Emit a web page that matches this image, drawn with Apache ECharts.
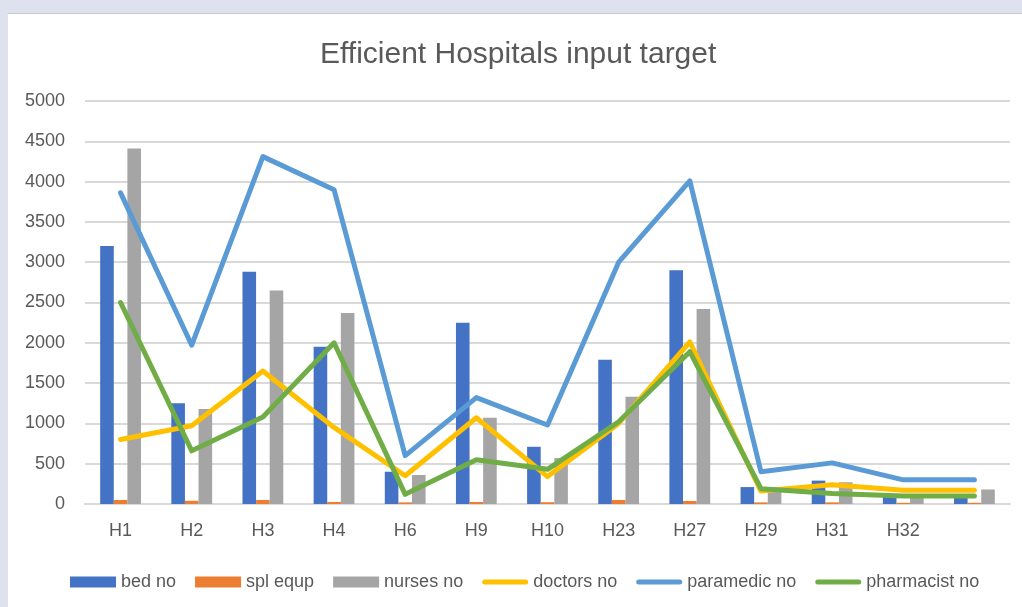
<!DOCTYPE html>
<html>
<head>
<meta charset="utf-8">
<script src="https://cdn.jsdelivr.net/npm/echarts@6/dist/echarts.min.js"></script>
<style>
html,body{margin:0;padding:0;background:#dee2ee;width:1022px;height:607px;overflow:hidden;}
#panel{position:absolute;left:7px;top:13px;width:1015px;height:594px;background:#fff;border-top:1px solid #c9c9c9;border-left:1px solid #e3e3e3;box-sizing:border-box;}
#chart{position:absolute;left:0;top:0;width:1022px;height:607px;}
</style>
</head>
<body>
<div id="panel"></div>
<div id="chart"></div>
<script>
const categories = ['H1','H2','H3','H4','H6','H9','H10','H23','H27','H29','H31','H32',''];
const bedNo      = [3200,1250,2880,1950,400,2250,710,1790,2900,210,290,100,100];
const splEqup    = [50,40,50,25,20,25,22,50,37,20,20,15,15];
const nursesNo   = [4410,1180,2650,2370,360,1070,570,1330,2420,150,270,120,180];
const doctorsNo  = [800,970,1650,950,350,1070,340,1000,2010,160,240,170,170];
const paramedicNo= [3860,1970,4310,3900,600,1320,980,3000,4010,400,510,300,300];
const pharmacistNo=[2500,660,1080,2000,120,550,430,1020,1890,190,130,100,100];
const yTicks = {min:0, max:5000, interval:500};

const FONT = 'Liberation Sans, Arial, sans-serif';
const chart = echarts.init(document.getElementById('chart'), null, {renderer:'canvas'});
const LINE_ICON = 'path://M2.5,0 L43.5,0 A2.5,2.5 0 0 1 43.5,5 L2.5,5 A2.5,2.5 0 0 1 2.5,0 Z';

function bar(name, data, color){
  return {name, type:'bar', data, barWidth:13.6, barGap:'0%',
    itemStyle:{color}, emphasis:{disabled:true}};
}
function line(name, data, color){
  return {name, type:'line', data, symbol:'none', smooth:false,
    lineStyle:{color, width:5, cap:'round', join:'round'},
    itemStyle:{color}, emphasis:{disabled:true}};
}

chart.setOption({
  animation:false,
  textStyle:{fontFamily:FONT},
  title:{text:'Efficient Hospitals input target', left:315, top:35,
    textStyle:{fontSize:30, fontWeight:'normal', color:'#595959', fontFamily:FONT}},
  grid:{left:85, right:12, top:101, bottom:103, containLabel:false},
  legend:{left:65, top:568, itemWidth:46, itemHeight:11, itemGap:19,
    textStyle:{fontSize:18, color:'#595959', fontFamily:FONT},
    data:[
      {name:'bed no', icon:'rect'},
      {name:'spl equp', icon:'rect'},
      {name:'nurses no', icon:'rect'},
      {name:'doctors no', icon:LINE_ICON},
      {name:'paramedic no', icon:LINE_ICON},
      {name:'pharmacist no', icon:LINE_ICON}
    ]},
  xAxis:{type:'category', data:categories,
    axisLine:{lineStyle:{color:'#d9d9d9', width:2}},
    axisTick:{show:false},
    axisLabel:{color:'#595959', fontSize:18, margin:18, fontFamily:FONT}},
  yAxis:{type:'value', min:yTicks.min, max:yTicks.max, interval:yTicks.interval,
    axisLine:{show:false}, axisTick:{show:false},
    splitLine:{lineStyle:{color:'#d9d9d9', width:2}},
    axisLabel:{color:'#595959', fontSize:18, margin:20, fontFamily:FONT,
      formatter: v => String(v)}},
  series:[
    bar('bed no', bedNo, '#4472C4'),
    bar('spl equp', splEqup, '#ED7D31'),
    bar('nurses no', nursesNo, '#A5A5A5'),
    line('doctors no', doctorsNo, '#FFC000'),
    line('paramedic no', paramedicNo, '#5B9BD5'),
    line('pharmacist no', pharmacistNo, '#70AD47')
  ]
});
</script>
</body>
</html>
